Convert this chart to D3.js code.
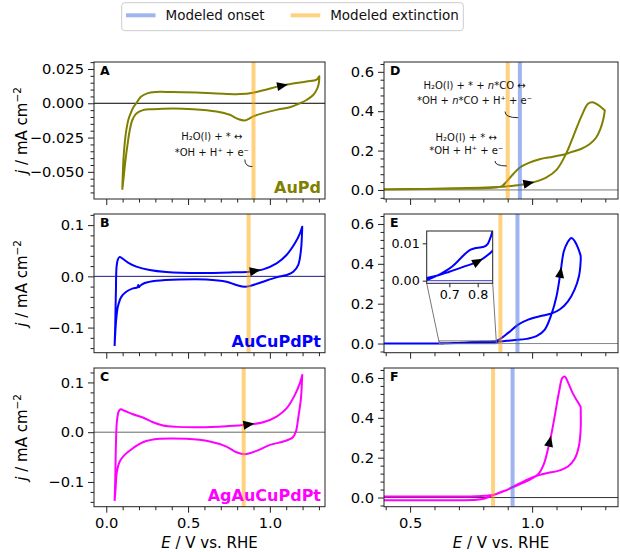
<!DOCTYPE html>
<html><head><meta charset="utf-8">
<script src="https://cdn.jsdelivr.net/npm/d3@7"></script>
<style>
body{margin:0;background:#fff;}
svg{display:block;font-family:"DejaVu Sans",sans-serif;}
</style></head><body>
<svg id="chart" width="620" height="552"></svg>
<script>
// ---------------- DATA ----------------
// Panel A (AuPd), CV in Ar
const A_an_E = [0.098,0.101,0.105,0.112,0.122,0.135,0.152,0.165,0.184,0.21,0.25,0.30,0.40,0.55,0.673,0.816,0.898,0.98,1.061,1.143,1.224,1.286,1.302];
const A_an_j = [-0.063,-0.052,-0.041,-0.030,-0.020,-0.012,-0.0065,-0.003,0.0,0.0045,0.0072,0.0082,0.0082,0.0078,0.0072,0.0067,0.0077,0.0101,0.0125,0.0144,0.0159,0.0173,0.0197];
const A_ca_E = [1.302,1.300,1.290,1.265,1.224,1.184,1.122,1.041,0.959,0.898,0.847,0.806,0.755,0.673,0.531,0.408,0.286,0.224,0.184,0.160,0.143,0.130,0.118,0.108,0.098];
const A_ca_j = [0.0197,0.0150,0.0108,0.006,0.0024,0.0,-0.0029,-0.0048,-0.0072,-0.0096,-0.0125,-0.0115,-0.0084,-0.006,-0.0043,-0.0038,-0.0043,-0.005,-0.0075,-0.012,-0.020,-0.030,-0.041,-0.052,-0.063];
// Panel B (AuCuPdPt)
const B_an_E = [0.051,0.053,0.055,0.059,0.063,0.071,0.082,0.098,0.133,0.184,0.265,0.367,0.571,0.776,0.878,0.959,1.041,1.102,1.153,1.184,1.198];
const B_an_j = [-0.136,-0.115,-0.092,-0.027,0.019,0.033,0.038,0.035,0.027,0.019,0.0124,0.0085,0.0065,0.0078,0.0091,0.0137,0.0254,0.0417,0.0645,0.084,0.097];
const B_ca_E = [1.198,1.196,1.19,1.173,1.143,1.102,1.041,0.959,0.898,0.847,0.796,0.735,0.612,0.449,0.306,0.235,0.205,0.200,0.196,0.190,0.163,0.122,0.092,0.071,0.062,0.056,0.051];
const B_ca_j = [0.097,0.080,0.051,0.022,0.009,0.0026,-0.002,-0.0104,-0.0169,-0.0202,-0.0169,-0.0104,-0.0059,-0.0059,-0.0085,-0.013,-0.019,-0.0215,-0.017,-0.0215,-0.0235,-0.030,-0.040,-0.059,-0.080,-0.105,-0.136];
// Panel C (AgAuCuPdPt)
const C_an_E = [0.051,0.053,0.055,0.059,0.065,0.076,0.088,0.112,0.163,0.224,0.286,0.347,0.429,0.571,0.735,0.857,0.959,1.041,1.102,1.153,1.184,1.198];
const C_an_j = [-0.138,-0.115,-0.093,-0.0255,0.0215,0.0416,0.046,0.043,0.036,0.0295,0.020,0.0134,0.0107,0.010,0.012,0.0148,0.020,0.0315,0.048,0.075,0.099,0.115];
const C_ca_E = [1.198,1.196,1.19,1.173,1.159,1.139,1.082,1.0,0.918,0.847,0.796,0.735,0.633,0.49,0.327,0.224,0.163,0.112,0.082,0.065,0.057,0.051];
const C_ca_j = [0.115,0.102,0.068,0.028,0.0013,-0.0107,-0.0188,-0.0255,-0.0376,-0.0443,-0.0403,-0.0289,-0.0188,-0.0134,-0.0134,-0.0201,-0.0322,-0.0456,-0.059,-0.079,-0.113,-0.138];
// Panel D (AuPd, CO stripping)
const D_an_E = [0.393,0.541,0.677,0.786,0.854,0.895,0.95,1.004,1.059,1.1,1.138,1.168,1.202,1.229,1.247,1.27,1.293,1.298];
const D_an_j = [0.0034,0.005,0.0084,0.0117,0.015,0.018,0.025,0.0386,0.064,0.102,0.181,0.27,0.374,0.4375,0.446,0.4325,0.41,0.404];
const D_ca_E = [1.298,1.292,1.28,1.262,1.235,1.2,1.16,1.138,1.086,1.031,0.984,0.95,0.922,0.895,0.875,0.84,0.677,0.393];
const D_ca_j = [0.404,0.36,0.31,0.265,0.232,0.208,0.192,0.183,0.169,0.156,0.136,0.114,0.08,0.042,0.018,0.0117,0.0067,0.0017];
// Panel E (AuCuPdPt, CO stripping)
const E_an_E = [0.393,0.5,0.6,0.624,0.655,0.70,0.749,0.80,0.85,0.87,0.922,0.977,1.018,1.052,1.079,1.1,1.116,1.13,1.144,1.161,1.175,1.188,1.199];
const E_an_j = [0.0,0.0003,0.0006,0.0008,0.0013,0.0024,0.0037,0.0051,0.0078,0.0098,0.0167,0.0234,0.0368,0.070,0.1455,0.2375,0.3545,0.463,0.505,0.53,0.513,0.48,0.441];
const E_ca_E = [1.199,1.199,1.192,1.174,1.147,1.113,1.079,1.031,0.984,0.943,0.902,0.868,0.853,0.845,0.835,0.823,0.808,0.79,0.775,0.76,0.74,0.71,0.68,0.655,0.635,0.615,0.5,0.393];
const E_ca_j = [0.441,0.413,0.338,0.271,0.212,0.1706,0.1505,0.137,0.12,0.095,0.0535,0.022,0.0135,0.0115,0.0098,0.0091,0.0089,0.0087,0.0083,0.0075,0.006,0.0038,0.0023,0.0013,0.0006,0.0001,0.0,0.0];
// Panel F (AgAuCuPdPt, CO stripping)
const F_an_E = [0.393,0.677,0.772,0.806,0.834,0.868,0.909,0.95,0.99,1.025,1.048,1.065,1.079,1.093,1.11,1.124,1.134,1.147,1.168,1.188,1.199];
const F_an_j = [-0.0134,-0.0134,-0.0117,-0.005,0.0084,0.025,0.045,0.067,0.089,0.117,0.168,0.243,0.318,0.411,0.528,0.6,0.607,0.578,0.52,0.478,0.456];
const F_ca_E = [1.199,1.199,1.192,1.174,1.147,1.106,1.059,1.011,0.97,0.929,0.888,0.854,0.82,0.772,0.541,0.393];
const F_ca_j = [0.456,0.344,0.26,0.193,0.156,0.134,0.122,0.106,0.084,0.059,0.0335,0.018,0.01,0.0067,0.005,0.005];

// Modeled potentials (V vs RHE): AuPd, AuCuPdPt, AgAuCuPdPt
const alloys = ["AuPd","AuCuPdPt","AgAuCuPdPt"];
const alloyColors = ["#808000","#0000ff","#ff00ff"];
const extinction = [0.90, 0.87, 0.84];
const onset = [0.95, 0.94, 0.92];
// arrow positions (potential on anodic branch)
const arrowsLeft = [1.075, 0.908, 0.869];
const arrowsRight = [0.985, 1.116, 1.072];
const insetArrow = 0.80;

// Tick labels
const leftXTicks = [0.0, 0.5, 1.0];
const rightXTicks = [0.5, 1.0];
const aYTicks = [-0.05, -0.025, 0, 0.025];
const bcYTicks = [-0.1, 0, 0.1];
const rightYTicks = [0, 0.2, 0.4, 0.6];
const insetXTicks = [0.7, 0.8];
const insetYTicks = [0, 0.01];

// ---------------- LAYOUT ----------------
const svg = d3.select('#chart');
const cols = [{x0:94,x1:325},{x0:384,x1:618}];
const rows = [{y0:62,y1:199},{y0:214,y1:352.7},{y0:368,y1:506.7}];
const xDomains = [[-0.075,1.337],[0.393,1.352]];
const leftYDomains = [[-0.0698,0.0301],[-0.149,0.1217],[-0.1497,0.129]];
const rightYDomain = [-0.046,0.65];
const FS = 14.7;
const ORANGE = "rgba(255,165,0,0.5)";
const BLUE = "rgba(65,105,225,0.5)";

function minorTicks(domain, step, majors){
  const out=[]; const s=Math.ceil(domain[0]/step-1e-9), e=Math.floor(domain[1]/step+1e-9);
  for(let k=s;k<=e;k++){const v=+(k*step).toFixed(6); if(!majors.some(m=>Math.abs(m-v)<1e-9)) out.push(v);}
  return out;
}
function interp(Es, js, e){
  for(let i=0;i<Es.length-1;i++){
    const a=Es[i], b=Es[i+1];
    if((e>=a && e<=b) && b>a){ const t=(e-a)/(b-a); return js[i]+t*(js[i+1]-js[i]); }
  }
  return js[js.length-1];
}
const lineGen = (x,y)=>d3.line().x(d=>x(d[0])).y(d=>y(d[1])).curve(d3.curveCatmullRom.alpha(0.5));

function styleAxis(g, fs){
  g.select('.domain').remove();
  g.selectAll('line').attr('stroke','#222').attr('stroke-width',1);
  g.selectAll('text').attr('font-size',fs).attr('fill','#000').attr('font-family','DejaVu Sans, sans-serif');
}

function drawArrow(g, x, y, Es, js, e, color){
  const d=0.006;
  const p0=[x(e-d), y(interp(Es,js,e-d))], p1=[x(e+d), y(interp(Es,js,e+d))];
  const ang=Math.atan2(p1[1]-p0[1], p1[0]-p0[0])*180/Math.PI;
  const px=x(e), py=y(interp(Es,js,e));
  g.append('path').attr('d','M6,0 L-5,-4.5 L-5,4.5 Z').attr('fill',color||'#000')
    .attr('transform',`translate(${px},${py}) rotate(${ang})`);
}

let clipId=0;
function panel(opts){
  const {c, r, yDomain, yTicks, yMinorStep, yFmt, xTicks, xMinorStep, showXLabels, data, color, ext, ons, zeroColor, letter, name, arrowE} = opts;
  const C=cols[c], R=rows[r];
  const x=d3.scaleLinear().domain(xDomains[c]).range([C.x0,C.x1]);
  const y=d3.scaleLinear().domain(yDomain).range([R.y1,R.y0]);
  const g=svg.append('g');
  const id='clip'+(clipId++);
  svg.append('clipPath').attr('id',id).append('rect').attr('x',C.x0).attr('y',R.y0).attr('width',C.x1-C.x0).attr('height',R.y1-R.y0);
  const inner=g.append('g').attr('clip-path',`url(#${id})`);
  // zero line
  inner.append('line').attr('x1',C.x0).attr('x2',C.x1).attr('y1',y(0)).attr('y2',y(0)).attr('stroke',zeroColor).attr('stroke-width',1);
  // curve
  const pts=data[0].map((e,i)=>[e,data[1][i]]).concat(data[2].map((e,i)=>[e,data[3][i]]));
  inner.append('path').attr('d',lineGen(x,y)(pts)).attr('fill','none').attr('stroke',color).attr('stroke-width',2).attr('stroke-linejoin','round');
  // modeled lines
  if(ons!=null) inner.append('line').attr('x1',x(ons)).attr('x2',x(ons)).attr('y1',R.y0).attr('y2',R.y1).attr('stroke',BLUE).attr('stroke-width',4);
  inner.append('line').attr('x1',x(ext)).attr('x2',x(ext)).attr('y1',R.y0).attr('y2',R.y1).attr('stroke',ORANGE).attr('stroke-width',4);
  drawArrow(inner,x,y,data[0],data[1],arrowE);
  // axes
  const ax=g.append('g').attr('transform',`translate(${C.x0},0)`).call(d3.axisLeft(y).tickValues(yTicks).tickSize(6).tickPadding(4).tickFormat(d3.format(yFmt)));
  styleAxis(ax,FS);
  const axm=g.append('g').attr('transform',`translate(${C.x0},0)`).call(d3.axisLeft(y).tickValues(minorTicks(yDomain,yMinorStep,yTicks)).tickSize(3.5).tickFormat(''));
  styleAxis(axm,FS);
  const bx=g.append('g').attr('transform',`translate(0,${R.y1})`).call(d3.axisBottom(x).tickValues(xTicks).tickSize(6).tickPadding(5).tickFormat(showXLabels?d3.format('.1f'):''));
  styleAxis(bx,FS);
  const bxm=g.append('g').attr('transform',`translate(0,${R.y1})`).call(d3.axisBottom(x).tickValues(minorTicks(xDomains[c],xMinorStep,xTicks)).tickSize(3.5).tickFormat(''));
  styleAxis(bxm,FS);
  // frame
  g.append('rect').attr('x',C.x0).attr('y',R.y0).attr('width',C.x1-C.x0).attr('height',R.y1-R.y0).attr('fill','none').attr('stroke','#222').attr('stroke-width',1);
  // letter
  g.append('text').attr('x',C.x0+6).attr('y',R.y0+13).attr('font-size',12.5).attr('font-weight','bold').text(letter);
  if(name) g.append('text').attr('x',C.x1-4).attr('y',R.y1-6).attr('text-anchor','end').attr('font-size',16).attr('font-weight','bold').attr('fill',color).text(name);
  return {x,y,g};
}

const leftData=[[A_an_E,A_an_j,A_ca_E,A_ca_j],[B_an_E,B_an_j,B_ca_E,B_ca_j],[C_an_E,C_an_j,C_ca_E,C_ca_j]];
const rightData=[[D_an_E,D_an_j,D_ca_E,D_ca_j],[E_an_E,E_an_j,E_ca_E,E_ca_j],[F_an_E,F_an_j,F_ca_E,F_ca_j]];
const leftZero=["#000","#1a1a80","#666"];
const rightZero=["#777","#888","#333"];
const letters=[["A","B","C"],["D","E","F"]];

const P={};
for(let r=0;r<3;r++){
  P['L'+r]=panel({c:0,r, yDomain:leftYDomains[r], yTicks:r===0?aYTicks:bcYTicks, yMinorStep:r===0?0.005:0.02, yFmt:r===0?'.3f':'.1f',
    xTicks:leftXTicks, xMinorStep:0.1, showXLabels:r===2, data:leftData[r], color:alloyColors[r], ext:extinction[r], ons:null,
    zeroColor:leftZero[r], letter:letters[0][r], name:alloys[r], arrowE:arrowsLeft[r]});
  P['R'+r]=panel({c:1,r, yDomain:rightYDomain, yTicks:rightYTicks, yMinorStep:0.04, yFmt:'.1f',
    xTicks:rightXTicks, xMinorStep:0.1, showXLabels:r===2, data:rightData[r], color:alloyColors[r], ext:extinction[r], ons:onset[r],
    zeroColor:rightZero[r], letter:letters[1][r], name:null, arrowE:arrowsRight[r]});
}

// y labels
for(let r=0;r<3;r++){
  const cy=(rows[r].y0+rows[r].y1)/2;
  const t=svg.append('text').attr('transform',`translate(27,${cy}) rotate(-90)`).attr('text-anchor','middle').attr('font-size',15);
  t.append('tspan').attr('font-style','italic').text('j');
  t.append('tspan').text(' / mA cm');
  t.append('tspan').attr('font-size',10.5).attr('dy','-0.55em').text('−2');
}
// x labels
for(let c=0;c<2;c++){
  const cx=(cols[c].x0+cols[c].x1)/2;
  const t=svg.append('text').attr('x',cx).attr('y',548).attr('text-anchor','middle').attr('font-size',15);
  t.append('tspan').attr('font-style','italic').text('E');
  t.append('tspan').text(' / V vs. RHE');
}

// annotations
function annot(p, ex, lines, fromE, fromJ, toE, toJ){
  const {x,y,g}=p;
  lines.forEach(l=>{
    const t=g.append('text').attr('x',x(ex)).attr('y',y(l.j)).attr('dy','0.35em').attr('text-anchor','middle').attr('font-size',10).attr('fill','#111');
    l.parts.forEach(pt=>{ const s=t.append('tspan').text(pt.t); if(pt.i) s.attr('font-style','italic'); });
  });
  const x1=x(fromE), y1=y(fromJ), x2=x(toE), y2=y(toJ);
  g.append('path').attr('d',`M${x1},${y1} Q${x1},${y2} ${x2},${y2}`).attr('fill','none').attr('stroke','#111').attr('stroke-width',0.9);
}
annot(P.L0, 0.645, [{j:-0.0243, parts:[{t:'H₂O(l) + * ↔'}]},{j:-0.0362, parts:[{t:'*OH + H⁺ + e⁻'}]}], 0.847,-0.041, 0.893,-0.0462);
annot(P.R0, 0.764, [{j:0.533, parts:[{t:'H₂O(l) + * + '},{t:'n',i:true},{t:'*CO ↔'}]},{j:0.452, parts:[{t:'*OH + '},{t:'n',i:true},{t:'*CO + H⁺ + e⁻'}]}], 0.889,0.398, 0.943,0.367);
annot(P.R0, 0.73, [{j:0.268, parts:[{t:'H₂O(l) + * ↔'}]},{j:0.201, parts:[{t:'*OH + H⁺ + e⁻'}]}], 0.848,0.147, 0.896,0.122);

// inset in E
(function(){
  const box={x0:426.7,x1:492.7,y0:231,y1:283.3};
  const xD=[0.62,0.853], yD=[-0.0007,0.0133];
  const main=P.R1;
  // indicator rectangle + connectors
  const rx0=main.x(xD[0]), rx1=main.x(xD[1]), ry0=main.y(yD[1]), ry1=main.y(yD[0]);
  main.g.append('rect').attr('x',rx0).attr('y',ry0).attr('width',rx1-rx0).attr('height',ry1-ry0).attr('fill','none').attr('stroke','#777').attr('stroke-width',1);
  main.g.append('line').attr('x1',box.x0).attr('y1',box.y1).attr('x2',rx0).attr('y2',ry1).attr('stroke','#777').attr('stroke-width',1);
  main.g.append('line').attr('x1',box.x1).attr('y1',box.y1).attr('x2',rx1).attr('y2',ry0).attr('stroke','#777').attr('stroke-width',1);
  const x=d3.scaleLinear().domain(xD).range([box.x0,box.x1]);
  const y=d3.scaleLinear().domain(yD).range([box.y1,box.y0]);
  const g=svg.append('g');
  g.append('rect').attr('x',box.x0).attr('y',box.y0).attr('width',box.x1-box.x0).attr('height',box.y1-box.y0).attr('fill','#fff');
  svg.append('clipPath').attr('id','insetclip').append('rect').attr('x',box.x0).attr('y',box.y0).attr('width',box.x1-box.x0).attr('height',box.y1-box.y0);
  const inner=g.append('g').attr('clip-path','url(#insetclip)');
  inner.append('line').attr('x1',box.x0).attr('x2',box.x1).attr('y1',y(0)).attr('y2',y(0)).attr('stroke','#3a3ad0').attr('stroke-width',1);
  const pts=E_an_E.map((e,i)=>[e,E_an_j[i]]).concat(E_ca_E.map((e,i)=>[e,E_ca_j[i]]));
  inner.append('path').attr('d',lineGen(x,y)(pts)).attr('fill','none').attr('stroke',alloyColors[1]).attr('stroke-width',2);
  drawArrow(inner,x,y,E_an_E,E_an_j,insetArrow);
  const ay=g.append('g').attr('transform',`translate(${box.x0},0)`).call(d3.axisLeft(y).tickValues(insetYTicks).tickSize(4).tickPadding(3).tickFormat(d3.format('.2f')));
  styleAxis(ay,12.7);
  const ax=g.append('g').attr('transform',`translate(0,${box.y1})`).call(d3.axisBottom(x).tickValues(insetXTicks).tickSize(4).tickPadding(3).tickFormat(d3.format('.1f')));
  styleAxis(ax,12.7);
  g.append('rect').attr('x',box.x0).attr('y',box.y0).attr('width',box.x1-box.x0).attr('height',box.y1-box.y0).attr('fill','none').attr('stroke','#222').attr('stroke-width',1);
})();

// legend
(function(){
  const g=svg.append('g');
  g.append('rect').attr('x',121.7).attr('y',2.7).attr('width',341.6).attr('height',28).attr('rx',3).attr('fill','#fff').attr('stroke','#ccc').attr('stroke-width',1);
  const items=[{label:'Modeled onset',color:BLUE,x:126},{label:'Modeled extinction',color:ORANGE,x:290.7}];
  items.forEach(it=>{
    g.append('line').attr('x1',it.x).attr('x2',it.x+29.5).attr('y1',15.3).attr('y2',15.3).attr('stroke',it.color).attr('stroke-width',4);
    g.append('text').attr('x',it.x+39.5).attr('y',15.3).attr('dy','0.35em').attr('font-size',13.5).attr('fill','#111').text(it.label);
  });
})();
</script></body></html>
